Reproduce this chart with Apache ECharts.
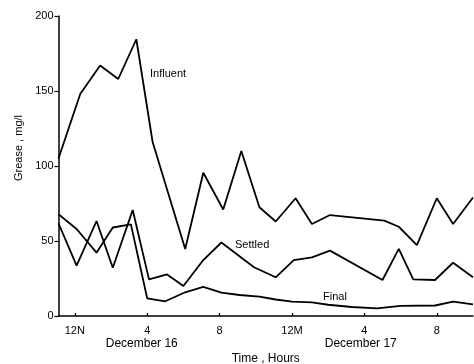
<!DOCTYPE html>
<html>
<head>
<meta charset="utf-8">
<style>
  html, body { margin: 0; padding: 0; background: #fff; }
  #chart { width: 474px; height: 364px; }
</style>
<script src="https://cdn.jsdelivr.net/npm/echarts@6/dist/echarts.min.js"></script>
</head>
<body>
<div id="chart"></div>
<script>
// Sampling times in hours from midnight, December 16 (24 = midnight, December 17)
// and grease concentrations in mg/l.
const influent = [
  [11.1, 105], [12.3, 148], [13.4, 167], [14.4, 158], [15.4, 184.5], [16.3, 116],
  [18.1, 44.7], [19.1, 95.5], [20.2, 71], [21.2, 110], [22.2, 72.5], [23.1, 63],
  [24.2, 78.5], [25.1, 61.3], [26.1, 67.3], [29.1, 63.6], [29.9, 59.5], [30.9, 47.3],
  [32.0, 78.5], [32.9, 61.3], [34.0, 79]
];
const settled = [
  [11.1, 61.8], [12.1, 33.6], [13.2, 63.3], [14.1, 32.2], [15.2, 70.7], [16.1, 24.4],
  [17.1, 27.7], [18.0, 20], [19.1, 37.3], [20.1, 49], [21.9, 32.5], [23.1, 25.8],
  [24.1, 37.3], [25.1, 39.1], [26.1, 43.6], [29.0, 24], [29.9, 44.7], [30.7, 24.4],
  [31.9, 24], [32.9, 35.5], [34.0, 25.8]
];
const finalEffluent = [
  [11.1, 67.8], [12.1, 58], [13.2, 42.2], [14.1, 59], [15.1, 61.1], [16.0, 11.8],
  [17.0, 9.8], [18.1, 15.8], [19.1, 19.4], [20.1, 15.6], [21.1, 14], [22.2, 12.9],
  [23.1, 11], [24.0, 9.6], [25.1, 9.1], [26.0, 7.5], [27.3, 6], [28.7, 5.1],
  [30.0, 6.7], [31.9, 7], [32.9, 9.6], [34.0, 7.8]
];

const hourTicks = [12, 16, 20, 24, 28, 32];
const hourLabels = ['12N', '4', '8', '12M', '4', '8'];
const dayTicks = [15.7, 27.8];
const dayLabels = ['December 16', 'December 17'];

const FONT = '"Liberation Sans", Arial, sans-serif';
const ink = '#000';

const chart = echarts.init(document.getElementById('chart'), null, { renderer: 'canvas' });

function lineSeries(name, data) {
  return {
    name: name,
    type: 'line',
    data: data,
    symbol: 'none',
    smooth: false,
    lineStyle: { color: ink, width: 1.8 },
    animation: false
  };
}

chart.setOption({
  backgroundColor: '#fff',
  animation: false,
  grid: { left: 58.5, right: 1, top: 16, bottom: 48, outerBoundsMode: 'none', containLabel: false },
  xAxis: [
    {
      type: 'value',
      min: 11.1,
      max: 34.0,
      axisLine: { show: true, lineStyle: { color: ink, width: 1.5 } },
      axisTick: {
        show: true, inside: true, length: 3,
        customValues: hourTicks,
        lineStyle: { color: ink, width: 1.2 }
      },
      splitLine: { show: false },
      axisLabel: {
        customValues: hourTicks,
        formatter: v => hourLabels[hourTicks.indexOf(v)] || '',
        color: ink, fontFamily: FONT, fontSize: 11, margin: 9
      },
      name: 'Time , Hours',
      nameLocation: 'middle',
      nameGap: 37,
      nameTextStyle: { color: ink, fontFamily: FONT, fontSize: 12 }
    },
    {
      type: 'value',
      position: 'bottom',
      min: 11.1,
      max: 34.0,
      axisLine: { show: false },
      axisTick: { show: false },
      splitLine: { show: false },
      axisLabel: {
        customValues: dayTicks,
        formatter: v => dayLabels[dayTicks.indexOf(v)] || '',
        color: ink, fontFamily: FONT, fontSize: 12, margin: 22
      }
    }
  ],
  yAxis: {
    type: 'value',
    min: 0,
    max: 200,
    interval: 50,
    axisLine: { show: true, lineStyle: { color: ink, width: 1.5 } },
    axisTick: { show: true, length: 4, lineStyle: { color: ink, width: 1.2 } },
    splitLine: { show: false },
    axisLabel: { color: ink, fontFamily: FONT, fontSize: 11, margin: 5 },
    name: 'Grease , mg/l',
    nameLocation: 'middle',
    nameGap: 33,
    nameTextStyle: { color: ink, fontFamily: FONT, fontSize: 11, padding: [0, 0, 0, 36] }
  },
  series: [
    lineSeries('Influent', influent),
    lineSeries('Settled', settled),
    lineSeries('Final', finalEffluent)
  ],
  graphic: [
    { type: 'text', left: 150, top: 68, style: { text: 'Influent', fill: ink, font: '11px ' + FONT } },
    { type: 'text', left: 235, top: 239, style: { text: 'Settled', fill: ink, font: '11px ' + FONT } },
    { type: 'text', left: 323, top: 291, style: { text: 'Final', fill: ink, font: '11px ' + FONT } }
  ]
});
</script>
</body>
</html>
